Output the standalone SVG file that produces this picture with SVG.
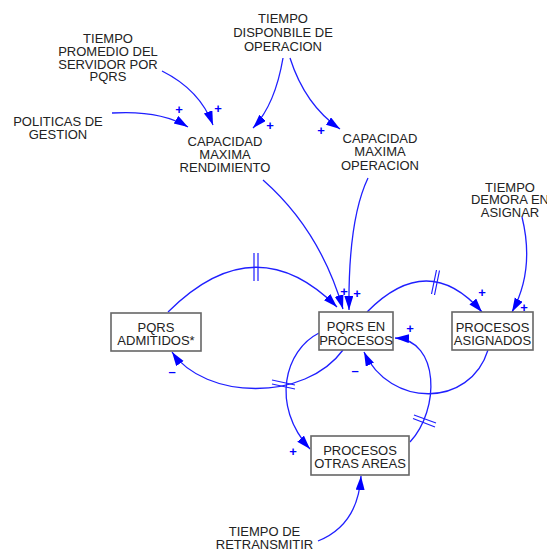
<svg xmlns="http://www.w3.org/2000/svg" width="547" height="550" viewBox="0 0 547 550">
<defs>
<style>
.t{font-family:"Liberation Sans",Arial,sans-serif;font-size:13px;fill:#222;text-anchor:middle}
.box{fill:#fff;stroke:#666;stroke-width:1.6}
.c{fill:none;stroke:#1f1fff;stroke-width:1.3}
.d{fill:none;stroke:#1f1fff;stroke-width:1.2}
.s{font-family:"Liberation Sans",Arial,sans-serif;font-size:13px;font-weight:bold;fill:#0000ff;text-anchor:middle}
</style>
<marker id="ah" markerUnits="userSpaceOnUse" markerWidth="15" markerHeight="10" refX="14" refY="4.5" orient="auto">
<path d="M0,0 L14,4.5 L0,9 z" fill="#0000ff"/>
</marker>
</defs>
<rect width="547" height="550" fill="#fff"/>

<g id="connectors">
<path class="c" d="M162,71 Q200,90 213,125" marker-end="url(#ah)"/>
<path class="c" d="M112,113 Q160,110 188,127" marker-end="url(#ah)"/>
<path class="c" d="M283,58 Q275,105 253,128" marker-end="url(#ah)"/>
<path class="c" d="M290,58 Q305,105 340,129" marker-end="url(#ah)"/>
<path class="c" d="M263,180 Q320,230 343,309" marker-end="url(#ah)"/>
<path class="c" d="M368,178 Q348,220 349,310" marker-end="url(#ah)"/>
<path class="c" d="M168,312 Q255,225 337,307" marker-end="url(#ah)"/>
<path class="c" d="M343,350 C305,402 205,400 172,352" marker-end="url(#ah)"/>
<path class="c" d="M319,333 C285,350 270,405 310,449" marker-end="url(#ah)"/>
<path class="c" d="M367,312 Q428,250 482,312" marker-end="url(#ah)"/>
<path class="c" d="M522,217 Q535,270 512,312" marker-end="url(#ah)"/>
<path class="c" d="M488,350 C470,408 390,408 364,352" marker-end="url(#ah)"/>
<path class="c" d="M410,442 C440,410 440,340 395,338" marker-end="url(#ah)"/>
<path class="c" d="M318,541 Q358,525 361,476" marker-end="url(#ah)"/>
<!-- delay marks -->
<path class="d" d="M254,253 L254,281 M258,253 L258,281"/>
<path class="d" d="M436.5,270 L431.5,294 M439.5,270.5 L434.5,295"/>
<path class="d" d="M272,380 L295,385 M272,384 L295,389"/>
<path class="d" d="M414,415 L436,423 M413,418.5 L435,427"/>
<!-- polarity -->
<text class="s" x="218" y="113">+</text>
<text class="s" x="179" y="114">+</text>
<text class="s" x="270" y="130">+</text>
<text class="s" x="321" y="135">+</text>
<text class="s" x="344" y="296">+</text>
<text class="s" x="357" y="298">+</text>
<text class="s" x="482" y="297">+</text>
<text class="s" x="524" y="312">+</text>
<text class="s" x="410" y="333">+</text>
<text class="s" x="293" y="456">+</text>
<text class="s" x="172" y="376">–</text>
<text class="s" x="355" y="375">–</text>
</g>

<g id="tiempo-promedio">
<text class="t"><tspan x="108" y="42.5">TIEMPO</tspan><tspan x="108" y="55.5">PROMEDIO DEL</tspan><tspan x="108" y="68.5">SERVIDOR POR</tspan><tspan x="108" y="81">PQRS</tspan></text>
</g>
<g id="politicas">
<text class="t"><tspan x="58" y="125.5">POLITICAS DE</tspan><tspan x="58" y="138.5">GESTION</tspan></text>
</g>
<g id="tiempo-disponible">
<text class="t"><tspan x="283" y="23">TIEMPO</tspan><tspan x="283" y="37">DISPONBILE DE</tspan><tspan x="283" y="51">OPERACION</tspan></text>
</g>
<g id="cap-rendimiento">
<text class="t"><tspan x="225" y="145.5">CAPACIDAD</tspan><tspan x="225" y="158.5">MAXIMA</tspan><tspan x="225" y="171.5">RENDIMIENTO</tspan></text>
</g>
<g id="cap-operacion">
<text class="t"><tspan x="380" y="143">CAPACIDAD</tspan><tspan x="380" y="156">MAXIMA</tspan><tspan x="380" y="169.5">OPERACION</tspan></text>
</g>
<g id="tiempo-demora">
<text class="t"><tspan x="510" y="191.5">TIEMPO</tspan><tspan x="510" y="203.5">DEMORA EN</tspan><tspan x="510" y="216.5">ASIGNAR</tspan></text>
</g>
<g id="pqrs-admitidos">
<rect class="box" x="111" y="313" width="90" height="38"/>
<text class="t"><tspan x="156" y="331.5">PQRS</tspan><tspan x="156" y="345">ADMITIDOS*</tspan></text>
</g>
<g id="pqrs-en-procesos">
<rect class="box" x="319" y="312" width="74" height="38"/>
<text class="t"><tspan x="356" y="330.5">PQRS EN</tspan><tspan x="356" y="344.5">PROCESOS</tspan></text>
</g>
<g id="procesos-asignados">
<rect class="box" x="452" y="312" width="81" height="38"/>
<text class="t"><tspan x="492.5" y="331.5">PROCESOS</tspan><tspan x="492.5" y="344.5">ASIGNADOS</tspan></text>
</g>
<g id="procesos-otras-areas">
<rect class="box" x="311" y="436" width="98" height="39"/>
<text class="t"><tspan x="360" y="455">PROCESOS</tspan><tspan x="360" y="468">OTRAS AREAS</tspan></text>
</g>
<g id="tiempo-retransmitir">
<text class="t"><tspan x="264.5" y="535.5">TIEMPO DE</tspan><tspan x="264.5" y="548.5">RETRANSMITIR</tspan></text>
</g>
</svg>
